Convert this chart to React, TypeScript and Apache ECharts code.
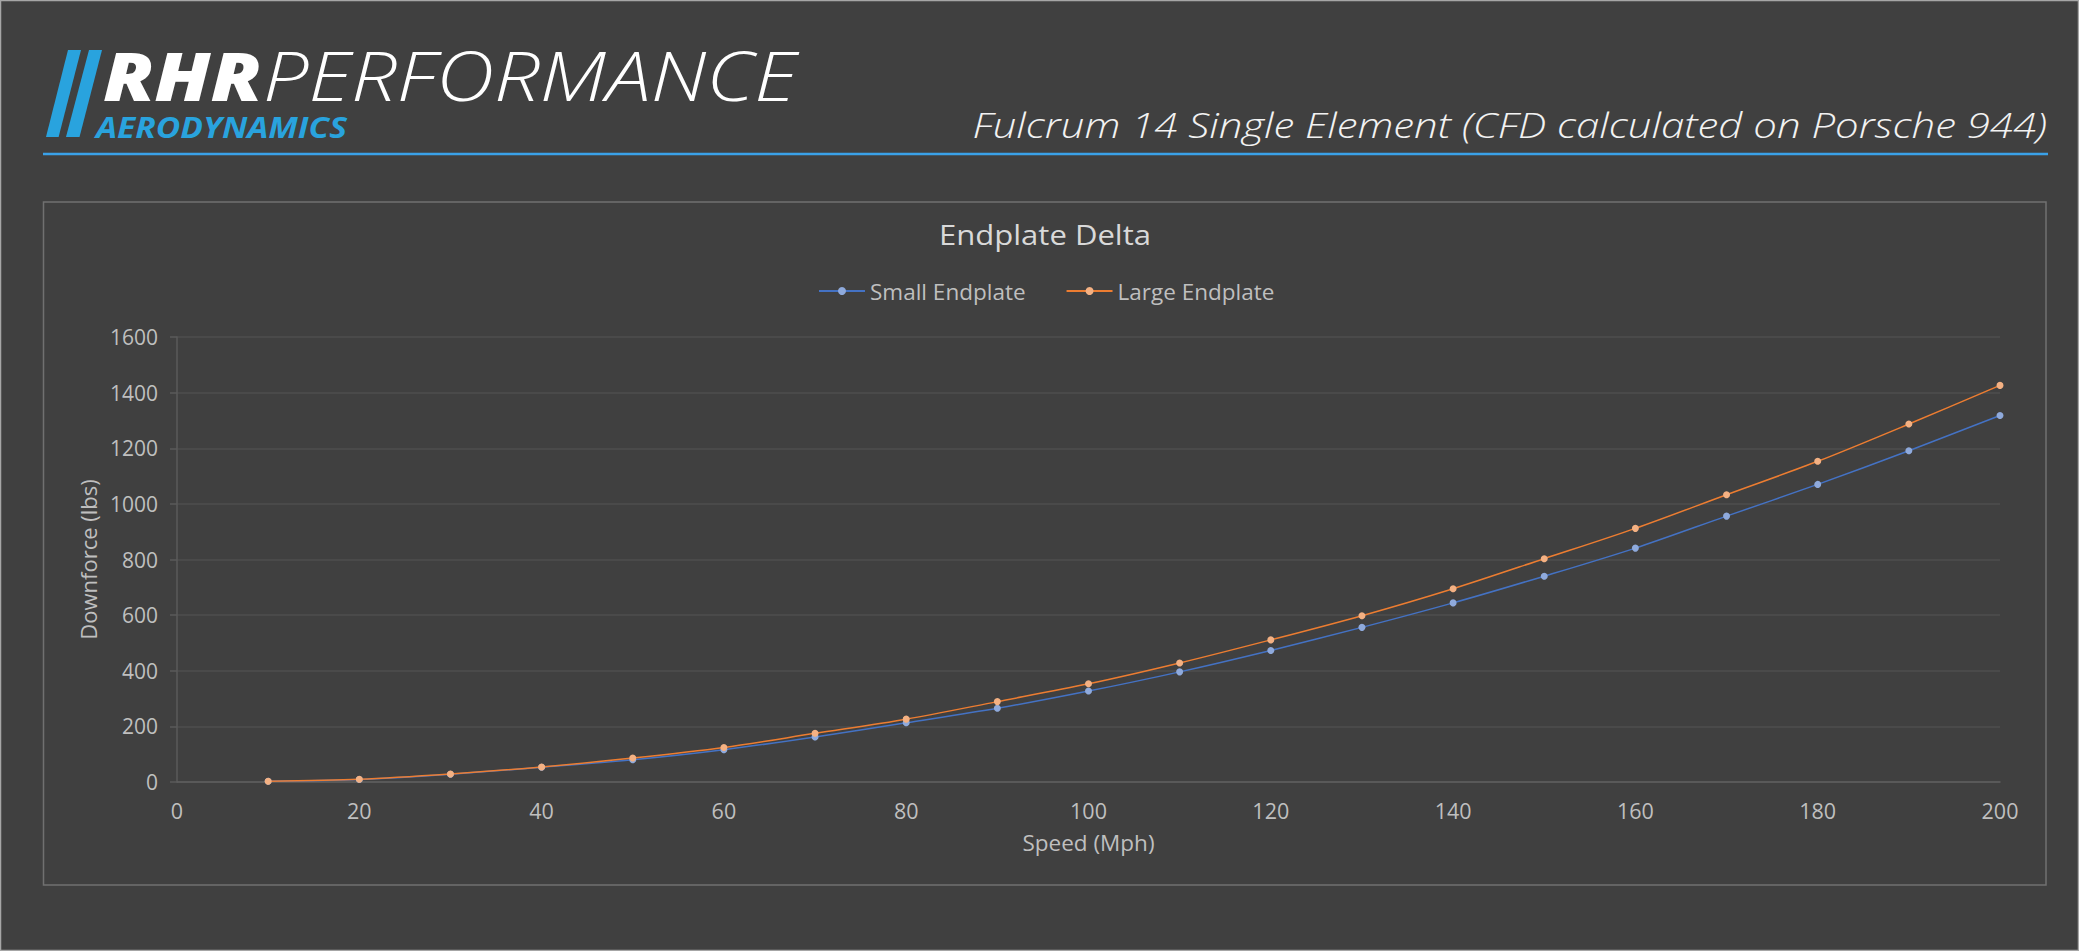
import React, { useEffect, useRef } from "react";
import * as echarts from "echarts";

const speeds = [10, 20, 30, 40, 50, 60, 70, 80, 90, 100, 110, 120, 130, 140, 150, 160, 170, 180, 190, 200];
const smallEndplate = [3, 9, 28, 53, 80, 116, 162, 213, 265, 327, 396, 473, 556, 644, 740, 841, 956, 1070, 1191, 1318];
const largeEndplate = [3, 10, 29, 54, 86, 124, 175, 226, 289, 353, 428, 511, 598, 695, 803, 912, 1033, 1153, 1287, 1426];
const seriesNames = ["Small Endplate", "Large Endplate"];
const chartTitle = "Endplate Delta";
const subtitle = "Fulcrum 14 Single Element (CFD calculated on Porsche 944)";
const xAxisName = "Speed (Mph)";
const yAxisName = "Downforce (lbs)";

const FONT = "'Open Sans', 'Noto Sans', sans-serif";
const BLUE = "#29a3de";

export default function App() {
  const ref = useRef<HTMLDivElement>(null);
  useEffect(() => {
    if (!ref.current) return;
    const chart = echarts.init(ref.current, undefined, { renderer: "svg" });
    const pairs = (ys: number[]) => speeds.map((s, i) => [s, ys[i]]);
    chart.setOption({
      animation: false,
      backgroundColor: "#404040",
      textStyle: { fontFamily: FONT },
      grid: { left: 177, right: 79, top: 337, bottom: 169, containLabel: false },
      legend: {
        left: 813,
        top: 274.5,
        itemWidth: 46,
        itemHeight: 10,
        itemGap: 40,
        textStyle: { color: "#bfbfbf", fontSize: 22.5, fontFamily: FONT },
        data: seriesNames,
      },
      xAxis: {
        type: "value",
        min: 0,
        max: 200,
        interval: 20,
        name: xAxisName,
        nameLocation: "middle",
        nameGap: 49,
        nameTextStyle: { color: "#bfbfbf", fontSize: 22.5, fontFamily: FONT },
        axisLine: { show: true, lineStyle: { color: "#5f5f5f", width: 1.5 } },
        axisTick: { show: false },
        axisLabel: { color: "#bfbfbf", fontSize: 21.5, margin: 17, fontFamily: FONT },
        splitLine: { show: false },
      },
      yAxis: {
        type: "value",
        min: 0,
        max: 1600,
        interval: 200,
        name: yAxisName,
        nameLocation: "middle",
        nameGap: 77,
        nameRotate: 90,
        nameTextStyle: { color: "#bfbfbf", fontSize: 22, fontFamily: FONT },
        axisLine: { show: true, lineStyle: { color: "#5a5a5a", width: 1.5 } },
        axisTick: { show: true, length: 7, lineStyle: { color: "#5a5a5a", width: 1.5 } },
        axisLabel: { color: "#bfbfbf", fontSize: 21, margin: 19, fontFamily: FONT, formatter: (v: number) => String(v) },
        splitLine: { show: true, lineStyle: { color: "#4e4e4e", width: 1.5 } },
      },
      series: [
        {
          name: seriesNames[0],
          type: "line",
          smooth: 0.3,
          data: pairs(smallEndplate),
          symbol: "circle",
          symbolSize: 7,
          lineStyle: { color: "#4472c4", width: 1.5 },
          itemStyle: { color: "#8faadc" },
          z: 2,
        },
        {
          name: seriesNames[1],
          type: "line",
          smooth: 0.3,
          data: pairs(largeEndplate),
          symbol: "circle",
          symbolSize: 7,
          lineStyle: { color: "#ed7d31", width: 1.5 },
          itemStyle: { color: "#f4b183" },
          z: 3,
        },
      ],
      graphic: [
        { type: "rect", shape: { x: 0.5, y: 0.5, width: 2078, height: 950 }, style: { fill: "none", stroke: "#a6a6a6", lineWidth: 1.5 }, silent: true },
        { type: "rect", shape: { x: 43.5, y: 202, width: 2002.5, height: 683 }, style: { fill: "none", stroke: "#707070", lineWidth: 1.5 }, silent: true },
        { type: "line", shape: { x1: 43, y1: 154, x2: 2048, y2: 154 }, style: { stroke: "#3aa1e8", lineWidth: 2.5 }, silent: true },
        { type: "polygon", shape: { points: [[68, 50], [81, 50], [58.6, 137], [46, 137]] }, style: { fill: BLUE } },
        { type: "polygon", shape: { points: [[89, 50], [102, 50], [79.5, 137], [66, 137]] }, style: { fill: BLUE } },
        {
          type: "text", x: 103, y: 74.5, scaleX: 1.16,
          style: { text: "RHR", fill: "#ffffff", font: `italic 800 68px ${FONT}`, align: "left", verticalAlign: "middle" },
        },
        {
          type: "text", x: 263, y: 74.5, scaleX: 1.19,
          style: { text: "PERFORMANCE", fill: "#ffffff", font: `italic 300 68px ${FONT}`, align: "left", verticalAlign: "middle" },
        },
        {
          type: "text", x: 96, y: 127, scaleX: 1.2,
          style: { text: "AERODYNAMICS", fill: BLUE, font: `italic 700 28px ${FONT}`, align: "left", verticalAlign: "middle" },
        },
        {
          type: "text", x: 2047, y: 124.7, scaleX: 1.235,
          style: { text: subtitle, fill: "#f2f2f2", font: `italic 300 34px ${FONT}`, align: "right", verticalAlign: "middle" },
        },
        {
          type: "text", x: 1045, y: 234.5, scaleX: 1.15,
          style: { text: chartTitle, fill: "#d9d9d9", font: `400 27px ${FONT}`, align: "center", verticalAlign: "middle" },
        },
      ],
    });
    return () => chart.dispose();
  }, []);
  return <div ref={ref} style={{ position: "fixed", left: 0, top: 0, width: 2079, height: 951 }} />;
}
